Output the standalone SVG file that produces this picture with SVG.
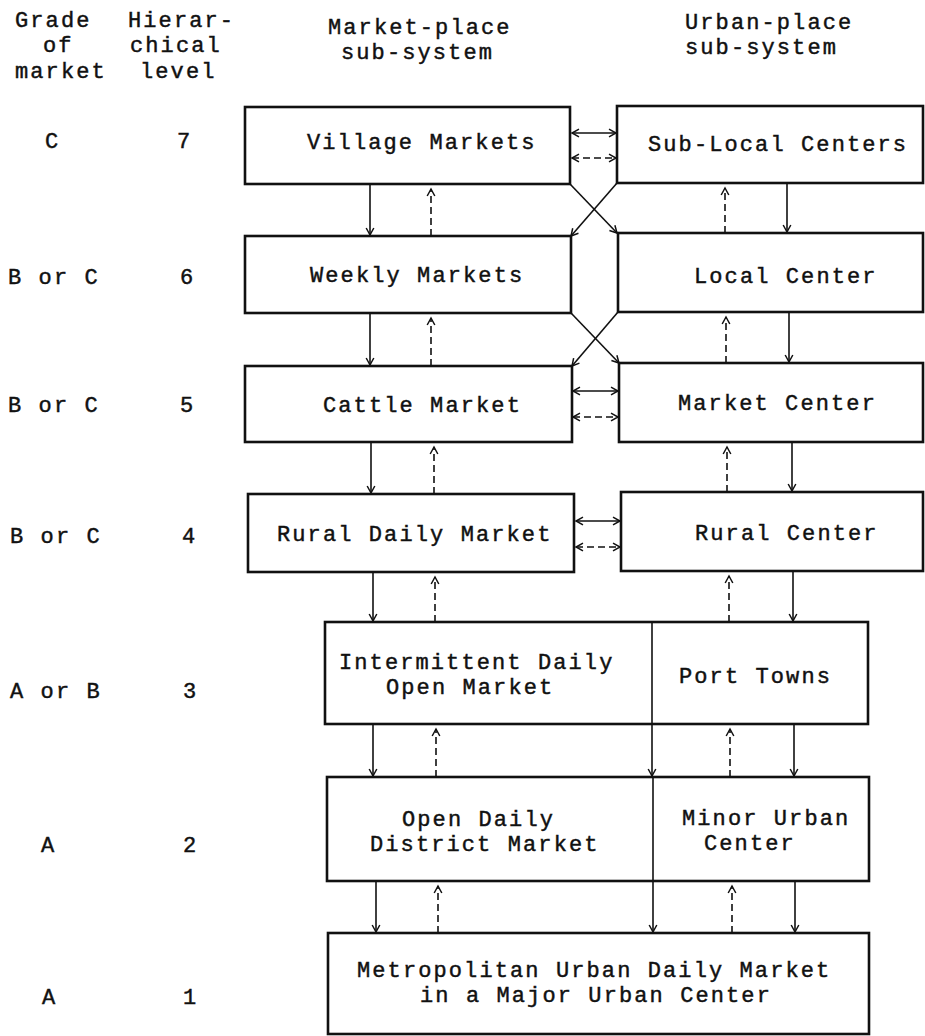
<svg xmlns="http://www.w3.org/2000/svg" width="925" height="1036" viewBox="0 0 925 1036">
<style>
.box{fill:none;stroke:#111;stroke-width:2.6}
.ln{fill:none;stroke:#111;stroke-width:1.6}
.ds{stroke-dasharray:7 4}
.t{font-family:"Liberation Mono","DejaVu Sans Mono",monospace;font-size:22px;letter-spacing:2.1px;fill:#111;stroke:#111;stroke-width:0.45}
</style>
<defs>
<marker id="a" viewBox="-9 -6 11 12" refX="0" refY="0" markerWidth="11" markerHeight="12" markerUnits="userSpaceOnUse" orient="auto-start-reverse">
<path d="M-7,-3.8 L0,0 L-7,3.8" fill="none" stroke="#111" stroke-width="1.5"/>
</marker>
</defs>
<rect width="925" height="1036" fill="#fff"/>

<g id="headers" class="t">
<text x="15" y="27">Grade</text>
<text x="43" y="52">of</text>
<text x="15" y="78">market</text>
<text x="128" y="27">Hierar-</text>
<text x="130" y="52">chical</text>
<text x="140" y="78">level</text>
<text x="328" y="34">Market-place</text>
<text x="341" y="59">sub-system</text>
<text x="685" y="29">Urban-place</text>
<text x="685" y="54">sub-system</text>
</g>

<g id="row-labels" class="t">
<text x="45" y="148">C</text><text x="177" y="148">7</text>
<text x="8" y="284">B or C</text><text x="180" y="284">6</text>
<text x="8" y="412">B or C</text><text x="180" y="412">5</text>
<text x="10" y="543">B or C</text><text x="182" y="543">4</text>
<text x="10" y="698">A or B</text><text x="183" y="698">3</text>
<text x="41" y="852">A</text><text x="183" y="852">2</text>
<text x="42" y="1004">A</text><text x="183" y="1004">1</text>
</g>

<g id="village-markets"><rect class="box" x="245" y="107" width="325" height="77"/><text class="t" x="307" y="149">Village Markets</text></g>
<g id="sub-local-centers"><rect class="box" x="617" y="106" width="306" height="77"/><text class="t" x="648" y="151">Sub-Local Centers</text></g>
<g id="weekly-markets"><rect class="box" x="245" y="236" width="326" height="77"/><text class="t" x="310" y="282">Weekly Markets</text></g>
<g id="local-center"><rect class="box" x="618" y="233" width="305" height="79"/><text class="t" x="694" y="283">Local Center</text></g>
<g id="cattle-market"><rect class="box" x="245" y="366" width="327" height="76"/><text class="t" x="323" y="412">Cattle Market</text></g>
<g id="market-center"><rect class="box" x="619" y="363" width="304" height="79"/><text class="t" x="678" y="410">Market Center</text></g>
<g id="rural-daily-market"><rect class="box" x="248" y="494" width="326" height="78"/><text class="t" x="277" y="541">Rural Daily Market</text></g>
<g id="rural-center"><rect class="box" x="621" y="492" width="302" height="79"/><text class="t" x="695" y="540">Rural Center</text></g>
<g id="level-3"><rect class="box" x="325" y="622" width="543" height="102"/><line class="ln" x1="652" y1="622" x2="652" y2="724"/>
<text class="t" x="339" y="669">Intermittent Daily</text><text class="t" x="386" y="694">Open Market</text>
<text class="t" x="679" y="683">Port Towns</text></g>
<g id="level-2"><rect class="box" x="327" y="777" width="542" height="104"/><line class="ln" x1="653" y1="777" x2="653" y2="881"/>
<text class="t" x="402" y="826">Open Daily</text><text class="t" x="370" y="851">District Market</text>
<text class="t" x="682" y="825">Minor Urban</text><text class="t" x="704" y="850">Center</text></g>
<g id="level-1"><rect class="box" x="328" y="933" width="541" height="101"/>
<text class="t" x="357" y="977">Metropolitan Urban Daily Market</text><text class="t" x="420" y="1002">in a Major Urban Center</text></g>

<g id="connectors">
<g class="ln" marker-end="url(#a)">
<line x1="370" y1="184" x2="370" y2="235"/>
<line x1="787" y1="183" x2="787" y2="232"/>
<line x1="370" y1="313" x2="370" y2="365"/>
<line x1="789" y1="312" x2="789" y2="362"/>
<line x1="371" y1="442" x2="371" y2="493"/>
<line x1="792" y1="442" x2="792" y2="491"/>
<line x1="373" y1="572" x2="373" y2="621"/>
<line x1="793" y1="571" x2="793" y2="621"/>
<line x1="373" y1="724" x2="373" y2="776"/>
<line x1="652" y1="724" x2="652" y2="776"/>
<line x1="794" y1="724" x2="794" y2="776"/>
<line x1="376" y1="881" x2="376" y2="932"/>
<line x1="653" y1="881" x2="653" y2="932"/>
<line x1="795" y1="881" x2="795" y2="932"/>
<line x1="570" y1="184" x2="617" y2="233"/>
<line x1="617" y1="183" x2="571" y2="236"/>
<line x1="571" y1="313" x2="619" y2="363"/>
<line x1="618" y1="312" x2="572" y2="366"/>
</g>
<g class="ln ds" marker-end="url(#a)">
<line x1="431" y1="236" x2="431" y2="189"/>
<line x1="725" y1="233" x2="725" y2="188"/>
<line x1="431" y1="366" x2="431" y2="318"/>
<line x1="726" y1="363" x2="726" y2="317"/>
<line x1="434" y1="494" x2="434" y2="447"/>
<line x1="727" y1="492" x2="727" y2="447"/>
<line x1="435" y1="622" x2="435" y2="577"/>
<line x1="729" y1="622" x2="729" y2="576"/>
<line x1="436" y1="777" x2="436" y2="729"/>
<line x1="730" y1="777" x2="730" y2="729"/>
<line x1="438" y1="933" x2="438" y2="886"/>
<line x1="732" y1="933" x2="732" y2="886"/>
</g>
<g class="ln" marker-start="url(#a)" marker-end="url(#a)">
<line x1="572" y1="133" x2="616" y2="133"/>
<line x1="573" y1="391" x2="618" y2="391"/>
<line x1="576" y1="521" x2="620" y2="521"/>
</g>
<g class="ln ds" marker-start="url(#a)" marker-end="url(#a)">
<line x1="572" y1="158" x2="616" y2="158"/>
<line x1="573" y1="417" x2="618" y2="417"/>
<line x1="576" y1="547" x2="620" y2="547"/>
</g>
</g>
</svg>
